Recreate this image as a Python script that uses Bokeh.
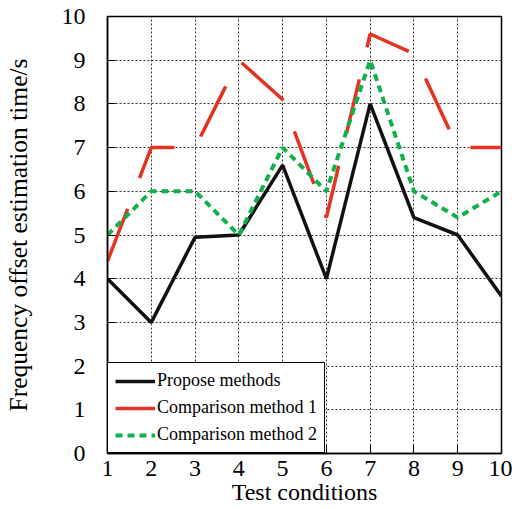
from bokeh.plotting import figure
from bokeh.models import Range1d, FixedTicker, Legend, LegendItem
from bokeh.embed import file_html
from bokeh.resources import INLINE

conditions = [1, 2, 3, 4, 5, 6, 7, 8, 9, 10]
propose = [4.0, 3.0, 4.95, 5.0, 6.6, 4.0, 8.0, 5.4, 5.0, 3.6]
comparison1 = [4.4, 7.0, 7.0, 9.0, 8.1, 5.4, 9.6, 9.15, 7.0, 7.0]
comparison2 = [5.0, 6.0, 6.0, 5.0, 7.0, 6.0, 9.0, 6.0, 5.4, 6.0]
x_ticks = [1, 2, 3, 4, 5, 6, 7, 8, 9, 10]
y_ticks = [0, 1, 2, 3, 4, 5, 6, 7, 8, 9, 10]

FONT = "Liberation Serif"

p = figure(width=512, height=509, output_backend="svg", toolbar_location=None,
           x_range=Range1d(1, 10), y_range=Range1d(0, 10),
           min_border_left=107, min_border_right=11, min_border_top=16, min_border_bottom=56)

p.outline_line_color = "black"
p.outline_line_width = 1.5
p.outline_line_alpha = 1

for ax in (p.xaxis[0], p.yaxis[0]):
    ax.axis_line_color = "black"
    ax.axis_line_width = 1.5
    ax.major_tick_in = 8
    ax.major_tick_out = 0
    ax.minor_tick_line_color = None
    ax.major_tick_line_color = "black"
    ax.major_label_text_font = FONT
    ax.major_label_text_font_size = "24px"
    ax.major_label_text_color = "black"
    ax.axis_label_text_font = FONT
    ax.axis_label_text_font_size = "24px"
    ax.axis_label_text_font_style = "normal"
    ax.axis_label_text_color = "black"

p.xaxis.ticker = FixedTicker(ticks=x_ticks)
p.yaxis.ticker = FixedTicker(ticks=y_ticks)
p.xaxis.axis_label = "Test conditions"
p.yaxis.axis_label = "Frequency offset estimation time/s"
p.yaxis.axis_label_text_font_size = "25.5px"
p.xaxis.major_label_standoff = 7
p.xaxis.axis_label_standoff = 0
p.yaxis.major_label_standoff = 22
p.yaxis.axis_label_standoff = 26

p.grid.grid_line_color = "black"
p.grid.grid_line_dash = "2 2"
p.grid.grid_line_width = 1
p.grid.grid_line_alpha = 0.8

r0 = p.line(conditions, propose, line_color="#111111", line_width=3.5)
r1 = p.line(conditions, comparison1, line_color="#e53323", line_width=3.5, line_dash="56 33")
r2 = p.line(conditions, comparison2, line_color="#10b04a", line_width=4, line_dash="7 5")

legend = Legend(items=[
    LegendItem(label="Propose methods", renderers=[r0]),
    LegendItem(label="Comparison method 1", renderers=[r1]),
    LegendItem(label="Comparison method 2", renderers=[r2]),
], location="bottom_left")
legend.margin = 0
legend.padding = 7
legend.spacing = 6
legend.glyph_width = 40
legend.glyph_height = 20
legend.label_height = 20
legend.label_standoff = 2
legend.label_text_font = FONT
legend.label_text_font_size = "18px"
legend.label_text_color = "black"
legend.border_line_color = "black"
legend.border_line_width = 1.2
legend.border_line_alpha = 1
legend.background_fill_alpha = 1
p.add_layout(legend)

open("out.html", "w").write(file_html(p, INLINE))
